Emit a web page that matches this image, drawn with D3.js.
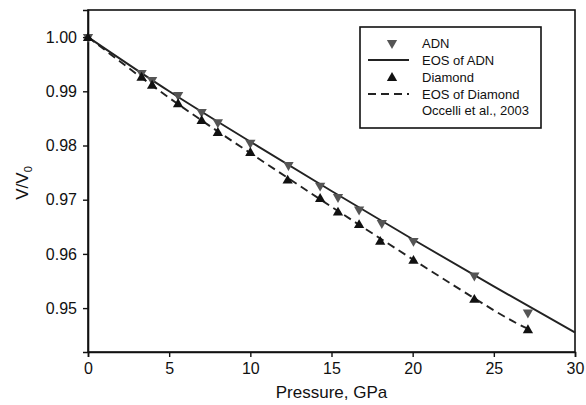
<!DOCTYPE html>
<html>
<head>
<meta charset="utf-8">
<script src="https://d3js.org/d3.v7.min.js"></script>
<style>
  body { margin: 0; background: #fff; }
  text { font-family: Arial, "Liberation Sans", sans-serif; fill: #111; }
</style>
</head>
<body>
<script>
var adnP = [0, 3.3, 3.95, 5.55, 7.0, 8.0, 10.0, 12.35, 14.3, 15.4, 16.7, 18.1, 20.05, 23.8, 27.1];
var adnV = [1.0, 0.9934, 0.9921, 0.9893, 0.9862, 0.9843, 0.9805, 0.9764, 0.9726, 0.9705, 0.9682, 0.9657, 0.9624, 0.9560, 0.9492];
var diaP = [0, 3.3, 3.95, 5.55, 7.0, 8.0, 10.0, 12.3, 14.3, 15.4, 16.7, 18.0, 20.05, 23.8, 27.1];
var diaV = [1.0, 0.9927, 0.9912, 0.9878, 0.9847, 0.9825, 0.9788, 0.9737, 0.9703, 0.9678, 0.9655, 0.9624, 0.9589, 0.9517, 0.9461];
// EOS curves, sampled along the drawn lines
var eosAdnP = [0, 5, 10, 15, 20, 25, 30];
var eosAdnV = [1.0, 0.9900, 0.9807, 0.9716, 0.9627, 0.9540, 0.9455];
var eosDiaP = [0, 5, 10, 15, 20, 25, 27.1];
var eosDiaV = [1.0, 0.9888, 0.9786, 0.9687, 0.9590, 0.9496, 0.9462];
var xTicks = [0, 5, 10, 15, 20, 25, 30];
var yTicks = [0.95, 0.96, 0.97, 0.98, 0.99, 1.00];

const w = 586, h = 405;
const pl = 88, pr = 575, pt = 10, pb = 352;

const svg = d3.select("body").append("svg").attr("width", w).attr("height", h);

const x = d3.scaleLinear().domain([0, 30]).range([pl, pr]);
const y = d3.scaleLinear().domain([0.9419, 1.005]).range([pb, pt]);

const zip = (a, b) => a.map((d, i) => [d, b[i]]);

// frame
svg.append("rect").attr("x", pl).attr("y", pt)
  .attr("width", pr - pl).attr("height", pb - pt)
  .attr("fill", "none").attr("stroke", "#111").attr("stroke-width", 1.6);

const xAxis = svg.append("g").attr("transform", "translate(0," + pb + ")")
  .call(d3.axisBottom(x).tickValues(xTicks).tickSize(5).tickPadding(6).tickFormat(d3.format("d")));
const yAxis = svg.append("g").attr("transform", "translate(" + pl + ",0)")
  .call(d3.axisLeft(y).tickValues(yTicks).tickSize(5).tickPadding(6).tickFormat(d3.format(".2f")));
[xAxis, yAxis].forEach(function(g) {
  g.select(".domain").attr("stroke", "#111").attr("stroke-width", 1.6);
  g.selectAll(".tick line").attr("stroke", "#111").attr("stroke-width", 1.4);
  g.selectAll(".tick text").attr("font-size", 16).attr("fill", "#111")
    .attr("font-family", "Arial, 'Liberation Sans', sans-serif");
});

const line = d3.line().x(d => x(d[0])).y(d => y(d[1])).curve(d3.curveNatural);

svg.append("path").datum(zip(eosAdnP, eosAdnV)).attr("d", line)
  .attr("fill", "none").attr("stroke", "#222").attr("stroke-width", 1.9);
svg.append("path").datum(zip(eosDiaP, eosDiaV)).attr("d", line)
  .attr("fill", "none").attr("stroke", "#222").attr("stroke-width", 1.9)
  .attr("stroke-dasharray", "8,5");

const tri = d3.symbol().type(d3.symbolTriangle).size(46);

svg.selectAll(".adn").data(zip(adnP, adnV)).enter().append("path")
  .attr("d", tri)
  .attr("transform", d => "translate(" + x(d[0]) + "," + y(d[1]) + ") rotate(180)")
  .attr("fill", "#555");
svg.selectAll(".dia").data(zip(diaP, diaV)).enter().append("path")
  .attr("d", tri)
  .attr("transform", d => "translate(" + x(d[0]) + "," + (y(d[1]) + 1) + ")")
  .attr("fill", "#111");

// legend
const lg = svg.append("g");
lg.append("rect").attr("x", 360).attr("y", 27).attr("width", 181).attr("height", 101)
  .attr("fill", "#fff").attr("stroke", "#111").attr("stroke-width", 1.6);
const legRows = ["ADN", "EOS of ADN", "Diamond", "EOS of Diamond", "Occelli et al., 2003"];
const legY = [43, 60, 77, 94, 110];
legRows.forEach(function(t, i) {
  lg.append("text").attr("x", 422).attr("y", legY[i] + 4.5).attr("font-size", 13).text(t);
});
lg.append("path").attr("d", tri).attr("transform", "translate(392," + legY[0] + ") rotate(180)").attr("fill", "#555");
lg.append("line").attr("x1", 368).attr("x2", 409).attr("y1", legY[1]).attr("y2", legY[1])
  .attr("stroke", "#222").attr("stroke-width", 1.9);
lg.append("path").attr("d", tri).attr("transform", "translate(392," + (legY[2] + 1) + ")").attr("fill", "#111");
lg.append("line").attr("x1", 368).attr("x2", 409).attr("y1", legY[3]).attr("y2", legY[3])
  .attr("stroke", "#222").attr("stroke-width", 1.9).attr("stroke-dasharray", "8,5");

// axis titles
svg.append("text").attr("x", (pl + pr) / 2).attr("y", 398).attr("text-anchor", "middle")
  .attr("font-size", 17).text("Pressure, GPa");
const yt = svg.append("text").attr("transform", "translate(28,183) rotate(-90)")
  .attr("text-anchor", "middle").attr("font-size", 17);
yt.append("tspan").text("V/V");
yt.append("tspan").attr("font-size", 11).attr("dy", 4).text("0");
</script>
</body>
</html>
